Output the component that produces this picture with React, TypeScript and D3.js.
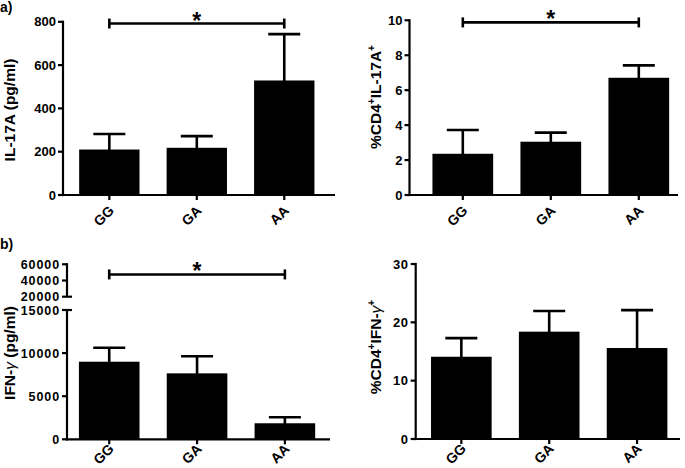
import React from "react";
import * as d3 from "d3";

const categories = ["GG", "GA", "AA"];

const il17Means = [210, 218, 529];
const il17Errs = [72, 54, 214];
const il17Ticks = [0, 200, 400, 600, 800];

const cd4Il17Means = [2.36, 3.05, 6.71];
const cd4Il17Errs = [1.36, 0.52, 0.71];
const cd4Il17Ticks = [0, 2, 4, 6, 8, 10];

const ifnMeans = [9000, 7650, 1860];
const ifnErrs = [1620, 1980, 700];
const ifnLowTicks = [0, 5000, 10000, 15000];
const ifnHighTicks = [20000, 40000, 60000];

const cd4IfnMeans = [14.1, 18.4, 15.6];
const cd4IfnErrs = [3.2, 3.55, 6.5];
const cd4IfnTicks = [0, 10, 20, 30];

const FONT = "'Liberation Sans', Arial, Helvetica, sans-serif";
const SW = 2.2;

type PanelProps = {
  axisX: number;
  axisEnd: number;
  bandRange: [number, number];
  y0: number;
  y1: number;
  domain: [number, number];
  ticks: number[];
  means: number[];
  errs: number[];
  label: React.ReactNode;
  labelX: number;
  labelY: number;
  bracket?: number;
  high?: { y0: number; y1: number; domain: [number, number]; ticks: number[] };
  tickFont?: number;
  tickSpacing?: number;
  xLabelGap?: number;
};

function Panel(p: PanelProps) {
  const x = d3
    .scaleBand<string>()
    .domain(categories)
    .range(p.bandRange)
    .paddingInner(0.31)
    .paddingOuter(0.155);
  const y = d3.scaleLinear().domain(p.domain).range([p.y0, p.y1]);
  const hy = p.high
    ? d3.scaleLinear().domain(p.high.domain).range([p.high.y0, p.high.y1])
    : null;
  const bw = x.bandwidth();
  const cx = (c: string) => (x(c) as number) + bw / 2;
  const fs = p.tickFont ?? 13;
  const ls = p.tickSpacing ?? 0;
  const capW = 32;
  const bracketScale = hy ?? y;
  const top = p.domain[1];
  const gap = p.xLabelGap ?? 13;
  return (
    <g fontFamily={FONT} fontWeight="bold" fill="#000">
      {categories.map((c, i) => (
        <rect
          key={"b" + c}
          x={x(c)}
          y={y(p.means[i])}
          width={bw}
          height={p.y0 - y(p.means[i])}
          fill="#000"
        />
      ))}
      {categories.map((c, i) => (
        <g key={"e" + c} stroke="#000" strokeWidth={2.6}>
          <line x1={cx(c)} x2={cx(c)} y1={y(p.means[i]) + 2} y2={y(p.means[i] + p.errs[i])} />
          <line
            x1={cx(c) - capW / 2}
            x2={cx(c) + capW / 2}
            y1={y(p.means[i] + p.errs[i])}
            y2={y(p.means[i] + p.errs[i])}
          />
        </g>
      ))}
      <line x1={p.axisX} x2={p.axisX} y1={p.y0 + SW / 2} y2={y(top) - (p.high ? 0 : SW / 2)} stroke="#000" strokeWidth={SW} />
      {p.ticks.map((t) => (
        <g key={"yt" + t}>
          <line
            x1={p.axisX - 5}
            x2={p.high && t === top ? p.axisX + 5 : p.axisX}
            y1={y(t)}
            y2={y(t)}
            stroke="#000"
            strokeWidth={SW}
          />
          <text x={p.axisX - 7} y={y(t)} dy="0.36em" textAnchor="end" fontSize={fs} letterSpacing={ls}>
            {t}
          </text>
        </g>
      ))}
      {p.high && hy && (
        <g>
          <line
            x1={p.axisX}
            x2={p.axisX}
            y1={hy(p.high.domain[0])}
            y2={hy(p.high.domain[1]) - SW / 2}
            stroke="#000"
            strokeWidth={SW}
          />
          {p.high.ticks.map((t) => (
            <g key={"ht" + t}>
              <line
                x1={p.axisX - 5}
                x2={t === p.high!.domain[0] ? p.axisX + 5 : p.axisX}
                y1={hy(t)}
                y2={hy(t)}
                stroke="#000"
                strokeWidth={SW}
              />
              <text x={p.axisX - 7} y={hy(t)} dy="0.36em" textAnchor="end" fontSize={fs} letterSpacing={ls}>
                {t}
              </text>
            </g>
          ))}
        </g>
      )}
      <line x1={p.axisX - SW / 2} x2={p.axisEnd} y1={p.y0} y2={p.y0} stroke="#000" strokeWidth={SW} />
      {categories.map((c) => {
        const px = cx(c) + 2;
        const py = p.y0 + gap;
        return (
          <g key={"xt" + c}>
            <line x1={cx(c)} x2={cx(c)} y1={p.y0} y2={p.y0 + 5} stroke="#000" strokeWidth={SW} />
            <text
              x={px}
              y={py}
              transform={`rotate(-45 ${px} ${py})`}
              textAnchor="end"
              dy="0.36em"
              fontSize={14}
            >
              {c}
            </text>
          </g>
        );
      })}
      {p.bracket !== undefined && (
        <g stroke="#000" strokeWidth={2.6}>
          <line
            x1={cx(categories[0])}
            x2={cx(categories[2])}
            y1={bracketScale(p.bracket)}
            y2={bracketScale(p.bracket)}
          />
          <line
            x1={cx(categories[0])}
            x2={cx(categories[0])}
            y1={bracketScale(p.bracket) - 5}
            y2={bracketScale(p.bracket) + 5}
          />
          <line
            x1={cx(categories[2])}
            x2={cx(categories[2])}
            y1={bracketScale(p.bracket) - 5}
            y2={bracketScale(p.bracket) + 5}
          />
          <text
            x={(cx(categories[0]) + cx(categories[2])) / 2}
            y={bracketScale(p.bracket) + 5}
            textAnchor="middle"
            fontSize={23}
            stroke="none"
          >
            *
          </text>
        </g>
      )}
      <text
        x={p.labelX}
        y={p.labelY}
        transform={`rotate(-90 ${p.labelX} ${p.labelY})`}
        textAnchor="middle"
        fontSize={15.5}
      >
        {p.label}
      </text>
    </g>
  );
}

export default function App() {
  return (
    <svg width={685} height={468} style={{ position: "absolute", left: 0, top: 0, background: "#fff" }}>
      <rect width={685} height={468} fill="#fff" />
      <text x={0} y={12} fontFamily={FONT} fontWeight="bold" fontSize={14}>
        a)
      </text>
      <text x={0} y={249} fontFamily={FONT} fontWeight="bold" fontSize={14}>
        b)
      </text>
      <Panel
        axisX={63}
        axisEnd={335}
        bandRange={[65.6, 328]}
        y0={195}
        y1={21.8}
        domain={[0, 800]}
        ticks={il17Ticks}
        means={il17Means}
        errs={il17Errs}
        bracket={792}
        label="IL-17A (pg/ml)"
        labelX={15}
        labelY={110}
      />
      <Panel
        axisX={409.5}
        axisEnd={678}
        bandRange={[418.8, 682.8]}
        y0={195}
        y1={20.3}
        domain={[0, 10]}
        ticks={cd4Il17Ticks}
        means={cd4Il17Means}
        errs={cd4Il17Errs}
        bracket={9.88}
        label={
          <>
            <tspan>%CD4</tspan>
            <tspan dy={-6} fontSize={10}>+</tspan>
            <tspan dy={6}>IL-17A</tspan>
            <tspan dy={-6} fontSize={10}>+</tspan>
          </>
        }
        labelX={381}
        labelY={97}
      />
      <Panel
        axisX={67}
        axisEnd={330}
        bandRange={[65.3, 328.8]}
        y0={439.3}
        y1={310}
        domain={[0, 15000]}
        ticks={ifnLowTicks}
        means={ifnMeans}
        errs={ifnErrs}
        bracket={47500}
        high={{ y0: 296.7, y1: 264.3, domain: [20000, 60000], ticks: ifnHighTicks }}
        tickFont={12.5}
        tickSpacing={0.9}
        xLabelGap={7}
        label={
          <>
            <tspan>IFN-</tspan>
            <tspan fontStyle="italic" fontWeight="normal">γ</tspan>
            <tspan> (pg/ml)</tspan>
          </>
        }
        labelX={15}
        labelY={353}
      />
      <Panel
        axisX={415.7}
        axisEnd={680}
        bandRange={[417.4, 681]}
        y0={439}
        y1={264}
        domain={[0, 30]}
        ticks={cd4IfnTicks}
        means={cd4IfnMeans}
        errs={cd4IfnErrs}
        tickFont={13}
        tickSpacing={0.6}
        xLabelGap={7}
        label={
          <>
            <tspan>%CD4</tspan>
            <tspan dy={-6} fontSize={10}>+</tspan>
            <tspan dy={6}>IFN-</tspan>
            <tspan fontStyle="italic" fontWeight="normal">γ</tspan>
            <tspan dy={-6} fontSize={10}>+</tspan>
          </>
        }
        labelX={381}
        labelY={347}
      />
    </svg>
  );
}
